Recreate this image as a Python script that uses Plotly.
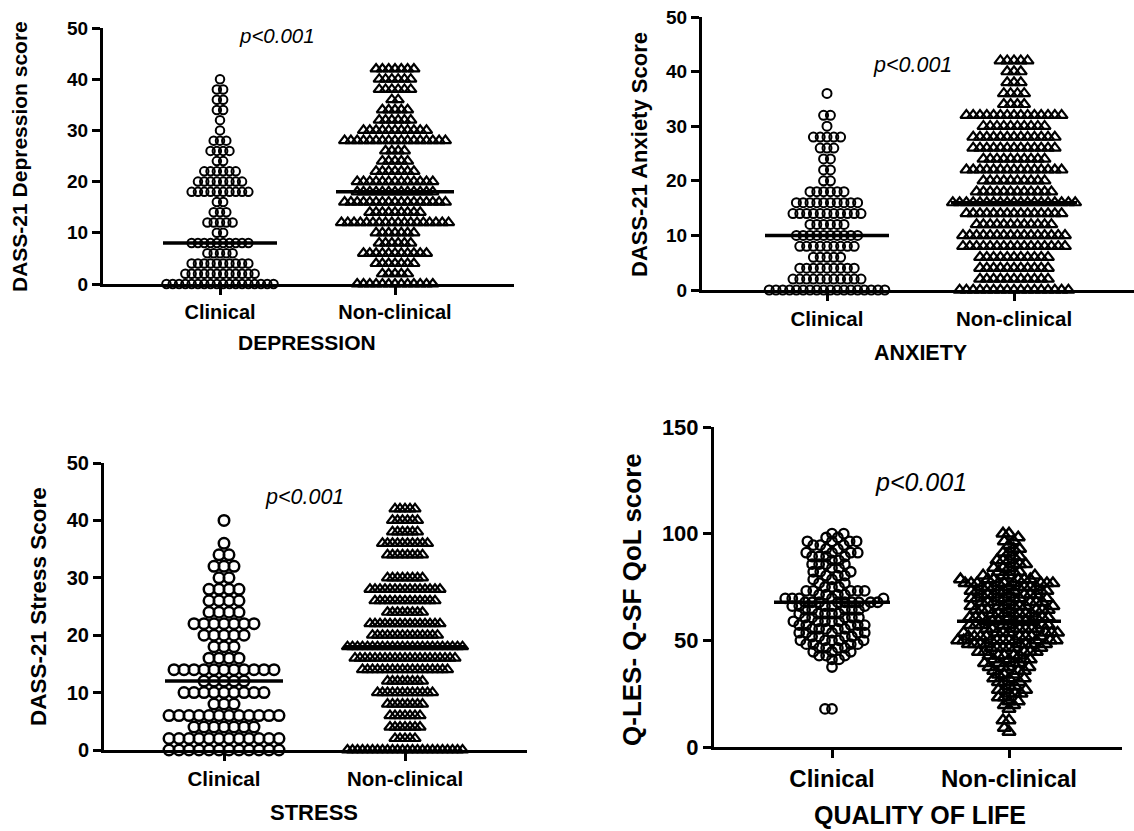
import plotly.graph_objects as go

W, H = 1134, 831

categories = ["Clinical", "Non-clinical"]

# DASS-21 score levels (even scores 0..42)
dass_levels = [0, 2, 4, 6, 8, 10, 12, 14, 16, 18, 20, 22, 24, 26, 28, 30, 32, 34, 36, 38, 40, 42]

# number of subjects at each score level
dep_clinical    = [18, 12, 10, 5, 10, 2, 5, 3, 2, 10, 8, 6, 2, 4, 3, 1, 1, 2, 2, 2, 1, 0]
dep_nonclinical = [13, 5, 7, 11, 6, 7, 18, 9, 17, 13, 13, 7, 5, 4, 17, 11, 6, 5, 2, 6, 6, 7]

anx_clinical    = [18, 11, 9, 5, 9, 10, 6, 11, 10, 6, 2, 2, 2, 3, 5, 1, 2, 0, 1, 0, 0, 0]
anx_nonclinical = [17, 11, 11, 11, 16, 16, 12, 15, 19, 12, 10, 15, 10, 13, 13, 10, 15, 4, 4, 3, 3, 5]

str_clinical    = [12, 12, 7, 12, 3, 9, 5, 11, 4, 3, 5, 7, 4, 4, 4, 2, 3, 2, 1, 0, 1, 0]
str_nonclinical = [24, 5, 7, 7, 8, 12, 8, 18, 21, 24, 14, 15, 8, 13, 15, 8, 0, 8, 10, 6, 6, 5]

# Q-LES-Q-SF percentage score levels
qol_levels = [7.14, 8.93, 12.5, 17.86, 19.64, 21.43, 23.21, 25.0, 26.79, 28.57,
              30.36, 32.14, 33.93, 35.71, 37.5, 39.29, 41.07, 42.86, 44.64, 46.43,
              48.21, 50.0, 51.79, 53.57, 55.36, 57.14, 58.93, 60.71, 62.5, 64.29,
              66.07, 67.86, 69.64, 71.43, 73.21, 75.0, 76.79, 78.57, 80.36, 82.14,
              83.93, 85.71, 87.5, 89.29, 91.07, 92.86, 94.64, 96.43, 98.21, 100.0]
qol_clinical    = [0, 0, 0, 2, 0, 0, 0, 0, 0, 0,
                   0, 0, 0, 0, 1, 0, 2, 3, 3, 4,
                   4, 5, 4, 5, 5, 5, 5, 5, 5, 5,
                   5, 9, 5, 4, 5, 3, 2, 2, 3, 3,
                   2, 4, 2, 4, 4, 2, 3, 4, 2, 2]
qol_nonclinical = [1, 1, 2, 1, 2, 2, 2, 3, 3, 2,
                   3, 3, 3, 3, 4, 4, 4, 5, 5, 6,
                   8, 10, 8, 7, 7, 7, 7, 7, 7, 7,
                   7, 7, 7, 7, 7, 8, 9, 6, 4, 3,
                   3, 3, 3, 2, 2, 2, 1, 2, 1, 2]

medians_dep = [8, 18]
medians_anx = [10, 16]
medians_str = [12, 18]
medians_qol = [67.86, 58.93]

p_text = "p<0.001"

FONT = "Liberation Sans, Arial, sans-serif"


def centered_rows(levels, counts, spacing):
    xs, ys = [], []
    for v, n in zip(levels, counts):
        for i in range(n):
            xs.append((i - (n - 1) / 2) * spacing)
            ys.append(v)
    return xs, ys


def beeswarm(levels, counts, d, ppu):
    vals = []
    for v, n in zip(levels, counts):
        vals += [v] * n
    placed = []
    xs = []
    side = 1
    for v in vals:
        y = v * ppu
        near = [(px, py) for px, py in placed if abs(py - y) < d]
        cands = [0.0]
        for px, py in near:
            dx = (d * d - (py - y) ** 2) ** 0.5
            cands += [px + dx, px - dx]
        cands.sort(key=lambda c: (round(abs(c), 4), -side * c))
        chosen = cands[-1]
        for c in cands:
            if all((c - px) ** 2 + (y - py) ** 2 >= d * d - 1e-6 for px, py in near):
                chosen = c
                break
        placed.append((chosen, y))
        xs.append(chosen)
        side = -side
    return xs, vals


panels = [
    dict(left=103, right=514, clin=220, non=395, y0=284, ytop=28, ymax=50, dtick=10,
         data=(dep_clinical, dep_nonclinical), med=medians_dep, mode="rows",
         spacing=(6.3, 6.3), size=(8.5, 10), lw=(2.0, 2.2), medhalf=(57, 59),
         ytitle="DASS-21 Depression score", ytx=19, yty=157, ytsize=21,
         xtitle="DEPRESSION", xtx=307, xty=343, xtsize=21,
         ptx=277, pty=36, psize=20.5, tsize=19, catsize=20),
    dict(left=702, right=1134, clin=827, non=1014, y0=290, ytop=17, ymax=50, dtick=10,
         data=(anx_clinical, anx_nonclinical), med=medians_anx, mode="rows",
         spacing=(6.8, 6.8), size=(9, 10.5), lw=(2.0, 2.2), medhalf=(62, 63),
         ytitle="DASS-21 Anxiety Score", ytx=639, yty=155, ytsize=22,
         xtitle="ANXIETY", xtx=920, xty=353, xtsize=21.5,
         ptx=912, pty=65, psize=21.5, tsize=19, catsize=20.5),
    dict(left=104, right=527, clin=224, non=405, y0=750, ytop=463, ymax=50, dtick=10,
         data=(str_clinical, str_nonclinical), med=medians_str, mode="rows",
         spacing=(10, 5.0), size=(10.5, 10), lw=(2.5, 2.2), medhalf=(59, 61),
         ytitle="DASS-21 Stress Score", ytx=38, yty=607, ytsize=22.5,
         xtitle="STRESS", xtx=314, xty=812, xtsize=22,
         ptx=304, pty=497, psize=21.5, tsize=20, catsize=20.5),
    dict(left=714, right=1122, clin=832, non=1009, y0=747, ytop=427, ymax=150, dtick=50,
         data=(qol_clinical, qol_nonclinical), med=medians_qol, mode="swarm",
         spacing=(7.0, 6.0), size=(9.5, 11.5), lw=(2.3, 2.5), medhalf=(58, 52),
         ytitle="Q-LES- Q-SF QoL score", ytx=632, yty=600, ytsize=26,
         xtitle="QUALITY OF LIFE", xtx=920, xty=815, xtsize=25,
         ptx=921, pty=482, psize=25, tsize=22, catsize=24),
]

fig = go.Figure()
layout = dict(width=W, height=H, margin=dict(l=0, r=0, t=0, b=0, pad=0, autoexpand=False),
              paper_bgcolor="white", plot_bgcolor="white", showlegend=False,
              annotations=[])

symbols = ["circle-open", "triangle-up-open"]

for i, p in enumerate(panels):
    k = "" if i == 0 else str(i + 1)
    u = p["non"] - p["clin"]
    xr = [1 - (p["clin"] - p["left"]) / u, 2 + (p["right"] - p["non"]) / u]
    ppu = (p["y0"] - p["ytop"]) / p["ymax"]
    levels = qol_levels if p["mode"] == "swarm" else dass_levels
    for g in range(2):
        if p["mode"] == "rows":
            offs, ys = centered_rows(levels, p["data"][g], p["spacing"][g])
        else:
            offs, ys = beeswarm(levels, p["data"][g], p["spacing"][g], ppu)
        xs = [g + 1 + o / u for o in offs]
        fig.add_trace(go.Scatter(
            x=xs, y=ys, mode="markers", xaxis="x" + k, yaxis="y" + k,
            cliponaxis=False, hoverinfo="skip",
            marker=dict(symbol=symbols[g], size=p["size"][g], color="black",
                        line=dict(width=p["lw"][g], color="black"))))
    for g in range(2):
        h = p["medhalf"][g] / u
        fig.add_trace(go.Scatter(
            x=[g + 1 - h, g + 1 + h], y=[p["med"][g]] * 2, mode="lines",
            xaxis="x" + k, yaxis="y" + k, cliponaxis=False, hoverinfo="skip",
            line=dict(color="black", width=3.5)))
    layout["xaxis" + k] = dict(
        domain=[p["left"] / W, p["right"] / W], range=xr, anchor="y" + k,
        showline=True, linecolor="black", linewidth=3, mirror=False, automargin=False,
        ticks="outside", tickwidth=3, ticklen=8, tickcolor="black",
        tickvals=[1, 2], ticktext=categories, showgrid=False, zeroline=False,
        tickfont=dict(family=FONT, size=p["catsize"], color="black", weight="bold"))
    layout["yaxis" + k] = dict(
        domain=[1 - p["y0"] / H, 1 - p["ytop"] / H], range=[0, p["ymax"]],
        anchor="x" + k, showline=True, linecolor="black", linewidth=3, automargin=False,
        ticks="outside", tickwidth=3, ticklen=8, tickcolor="black",
        tick0=0, dtick=p["dtick"], showgrid=False, zeroline=False,
        tickfont=dict(family=FONT, size=p["tsize"], color="black", weight="bold"))
    layout["annotations"] += [
        dict(text=p["ytitle"], x=p["ytx"] / W, y=1 - p["yty"] / H, xref="paper", yref="paper",
             textangle=-90, showarrow=False, xanchor="center", yanchor="middle",
             font=dict(family=FONT, size=p["ytsize"], color="black", weight="bold")),
        dict(text=p["xtitle"], x=p["xtx"] / W, y=1 - p["xty"] / H, xref="paper", yref="paper",
             showarrow=False, xanchor="center", yanchor="middle",
             font=dict(family=FONT, size=p["xtsize"], color="black", weight="bold")),
        dict(text="<i>" + p_text.replace("<", "&lt;") + "</i>", x=p["ptx"] / W, y=1 - p["pty"] / H,
             xref="paper", yref="paper", showarrow=False, xanchor="center", yanchor="middle",
             font=dict(family=FONT, size=p["psize"], color="black")),
    ]

fig.update_layout(**layout)
fig.write_html("out.html", config={"displayModeBar": False},
               post_script="document.body.style.margin='0';document.body.style.overflow='hidden';")
